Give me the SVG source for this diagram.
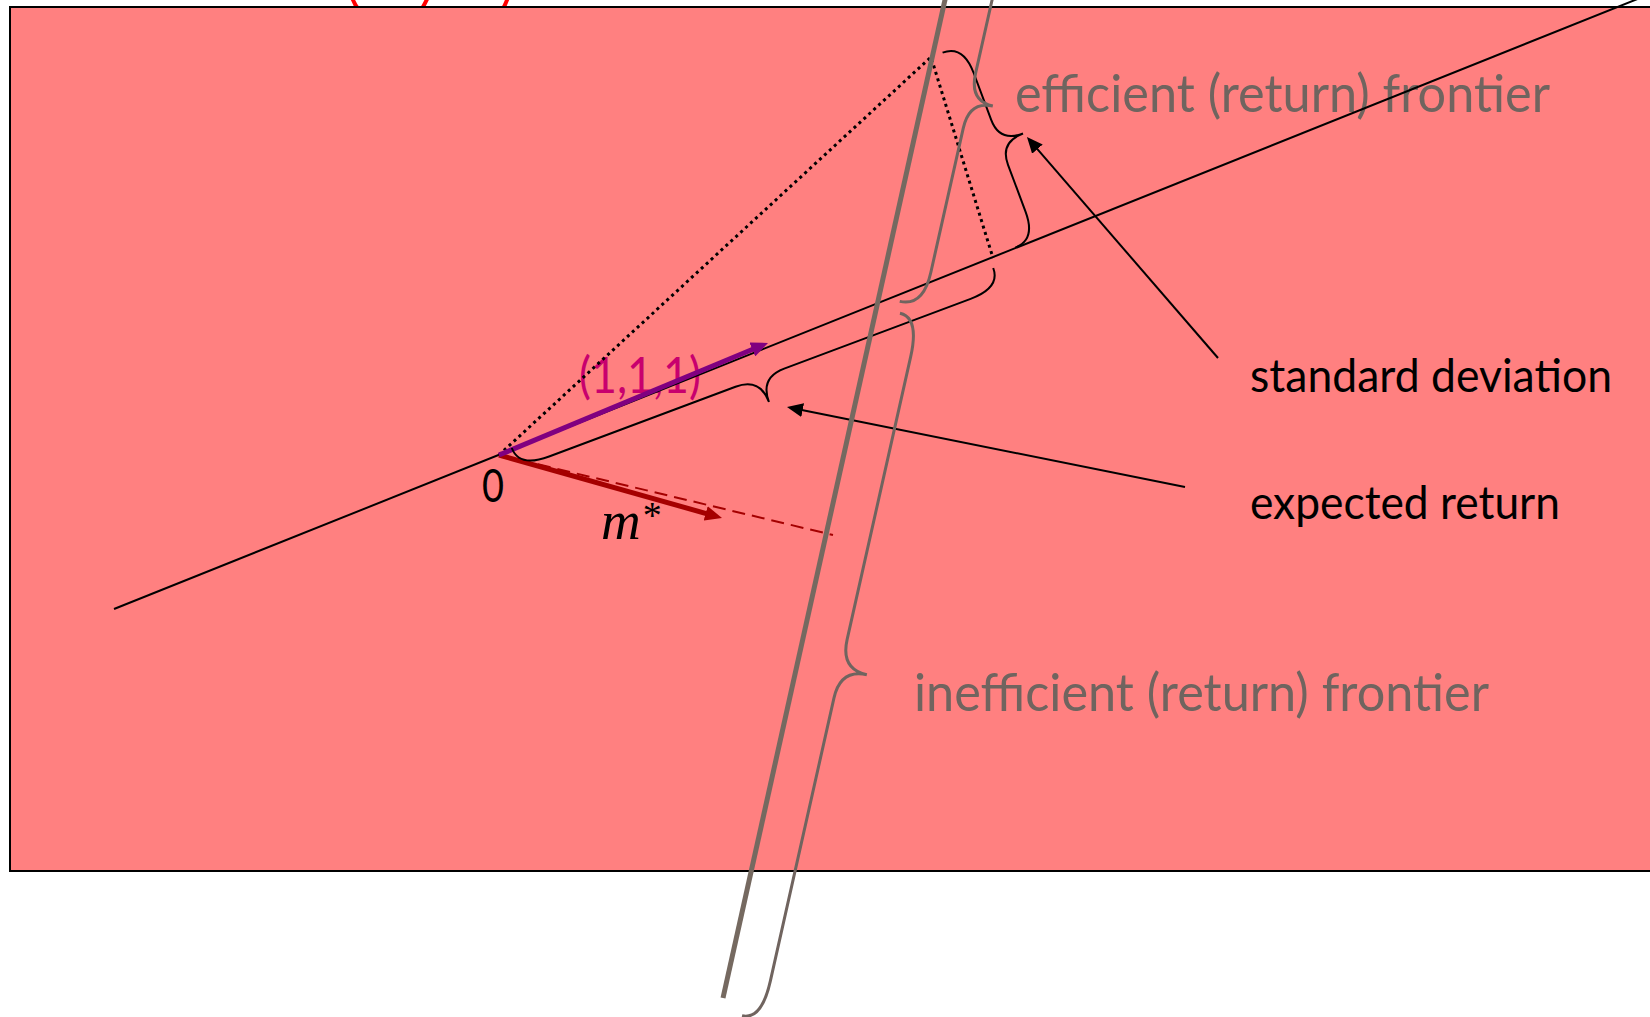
<svg xmlns="http://www.w3.org/2000/svg" width="1650" height="1017" viewBox="0 0 1650 1017">
<defs>
<style>
.lbl{font-family:Lato,"Open Sans","Liberation Sans",sans-serif}
.gray{fill:#70645F;font-size:53px}
.blk{fill:#000;font-size:47px}
.bk{fill:none;stroke:#000;stroke-width:2}
.bg{fill:none;stroke:#70645F;stroke-width:3}
.ln{fill:none;stroke:#000;stroke-width:2}
.frag{fill:none;stroke:#FF0000;stroke-width:4}
</style>
<marker id="ahk" viewBox="0 0 16 14" refX="6" refY="7" markerWidth="16" markerHeight="14" orient="auto" markerUnits="userSpaceOnUse"><path d="M0,0 L16,7 L0,14 z" fill="#000"/></marker>
<marker id="ahp" viewBox="0 0 17 15" refX="7" refY="7.5" markerWidth="17" markerHeight="15" orient="auto" markerUnits="userSpaceOnUse"><path d="M0,0 L17,7.5 L0,15 z" fill="#800080"/></marker>
<marker id="ahr" viewBox="0 0 17 15" refX="7" refY="7.5" markerWidth="17" markerHeight="15" orient="auto" markerUnits="userSpaceOnUse"><path d="M0,0 L17,7.5 L0,15 z" fill="#A50000"/></marker>
</defs>
<rect width="1650" height="1017" fill="#FFFFFF"/>
<g id="top-fragments">
<path class="frag" d="M352,-3 Q354,4 359,10"/>
<path class="frag" d="M428,-3 Q425,4 421,10"/>
<path class="frag" d="M508,-3 Q506,4 502,10"/>
</g>
<rect id="panel" x="10" y="7" width="1660" height="864" fill="#FF8080" stroke="#000" stroke-width="2"/>

<g id="label-efficient"><text class="lbl gray" x="1015" y="112" textLength="535" lengthAdjust="spacingAndGlyphs">efficient (return) frontier</text></g>
<g id="label-inefficient"><text class="lbl gray" x="914" y="711" textLength="575" lengthAdjust="spacingAndGlyphs">inefficient (return) frontier</text></g>
<g id="label-std"><text class="lbl blk" x="1250" y="392" textLength="362" lengthAdjust="spacingAndGlyphs">standard deviation</text></g>
<g id="label-exp"><text class="lbl blk" x="1250" y="519" textLength="310" lengthAdjust="spacingAndGlyphs">expected return</text></g>
<g id="label-111"><text class="lbl" x="579" y="393" font-size="51" fill="#C8006E" textLength="122" lengthAdjust="spacingAndGlyphs">(1,1,1)</text></g>
<g id="label-origin"><text class="lbl" x="493" y="502" font-size="47" fill="#000" text-anchor="middle" textLength="22" lengthAdjust="spacingAndGlyphs">0</text></g>
<g id="label-m"><text x="601" y="539" font-family="'Liberation Serif','DejaVu Serif',serif" font-style="italic" font-size="55" fill="#000">m<tspan font-style="normal" font-size="38" dx="2" dy="-11">*</tspan></text></g>

<g id="connectors">
<line class="ln" x1="114" y1="609" x2="1640" y2="-2"/>
<polyline points="499,455 931,57 993,258" fill="none" stroke="#000" stroke-width="3" stroke-dasharray="3 3.7"/>
<line x1="499" y1="455" x2="833" y2="535" stroke="#A50000" stroke-width="2" stroke-dasharray="13 7"/>
<line x1="499" y1="455" x2="712.4" y2="515.3" stroke="#A50000" stroke-width="5" marker-end="url(#ahr)"/>
<line x1="499" y1="455" x2="758.8" y2="346.8" stroke="#800080" stroke-width="5" marker-end="url(#ahp)"/>
<path class="bk" transform="translate(979,150) rotate(-20.5)" d="M0,-104 Q22,-104 22,-74 L22,-24 Q22,0 47,0 Q22,0 22,24 L22,74 Q22,104 0,104"/>
<path class="bk" transform="translate(752.5,358) rotate(69.5)" d="M0,-257 Q21,-257 21,-225 L21,-26 Q21,0 47,0 Q21,0 21,26 L21,225 Q21,257 0,257"/>
<line class="ln" x1="1218" y1="358" x2="1033.5" y2="144.6" marker-end="url(#ahk)"/>
<line class="ln" x1="1185" y1="487" x2="796.8" y2="409" marker-end="url(#ahk)"/>
<path class="bg" transform="translate(946,95.5) rotate(12.67)" d="M0,-211 Q24,-211 24,-176 L24,-28 Q24,0 48,0 Q24,0 24,28 L24,176 Q24,211 0,211"/>
<path class="bg" transform="translate(821,664.5) rotate(12.67)" d="M0,-360 Q20,-360 20,-320 L20,-30 Q20,0 47,0 Q20,0 20,30 L20,320 Q20,360 0,360"/>
<line x1="946.5" y1="-7" x2="723" y2="998" stroke="#756960" stroke-width="5"/>
</g>
</svg>
